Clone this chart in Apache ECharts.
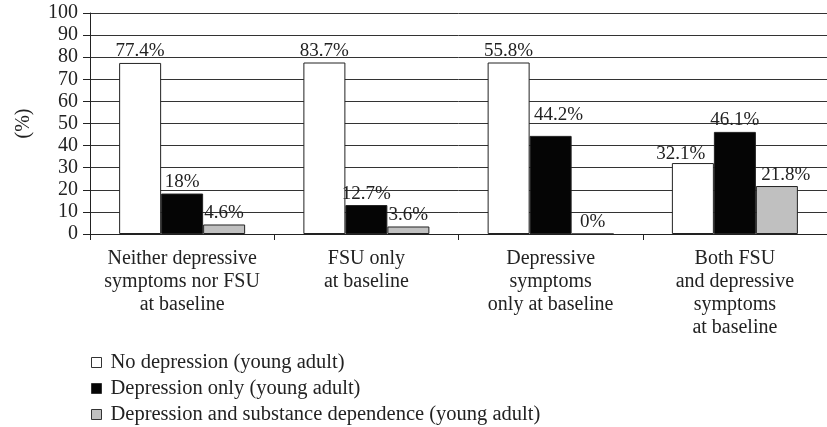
<!DOCTYPE html>
<html>
<head>
<meta charset="utf-8">
<script src="https://cdn.jsdelivr.net/npm/echarts@6/dist/echarts.min.js"></script>
<style>
  html, body { margin: 0; padding: 0; background: #fff; }
  #chart { width: 827px; height: 427px; }
</style>
</head>
<body>
<div id="chart"></div>
<script>
const categories = [
  "Neither depressive\nsymptoms nor FSU\nat baseline",
  "FSU only\nat baseline",
  "Depressive\nsymptoms\nonly at baseline",
  "Both FSU\nand depressive\nsymptoms\nat baseline"
];
const seriesNames = [
  "No depression (young adult)",
  "Depression only (young adult)",
  "Depression and substance dependence (young adult)"
];
// bar heights as drawn in the picture
const noDepression = [77.4, 77.6, 77.6, 32.1];
const depressionOnly = [18.3, 13.1, 44.4, 46.2];
const depressionSubst = [4.3, 3.4, 0, 21.7];
// printed labels
const noDepressionLabels = ["77.4%", "83.7%", "55.8%", "32.1%"];
const depressionOnlyLabels = ["18%", "12.7%", "44.2%", "46.1%"];
const depressionSubstLabels = ["4.6%", "3.6%", "0%", "21.8%"];

const FONT = '"Liberation Serif", "DejaVu Serif", serif';

// small nudges of a few labels, as in the original
const labelTweaks = {
  "1-2": [8, -9],
  "0-3": [-12, 2],
  "2-3": [9, 0]
};

function makeData(values, labels, s) {
  return values.map((v, i) => {
    const d = { value: v, label: { formatter: labels[i] } };
    const t = labelTweaks[s + "-" + i];
    if (t) d.label.offset = t;
    return d;
  });
}

const colors = ["#ffffff", "#050505", "#c0c0c0"];
const valueSets = [noDepression, depressionOnly, depressionSubst];
const labelSets = [noDepressionLabels, depressionOnlyLabels, depressionSubstLabels];

const chart = echarts.init(document.getElementById("chart"));
chart.setOption({
  animation: false,
  textStyle: { fontFamily: FONT },
  grid: { left: 90, top: 13, bottom: 193, right: -11 },
  legend: seriesNames.map((name, i) => ({
    left: 86,
    top: 347 + i * 26,
    itemWidth: 10,
    itemHeight: 10,
    icon: "rect",
    data: [name],
    itemStyle: { borderColor: "#333", borderWidth: 1 },
    textStyle: { fontFamily: FONT, fontSize: 20.5, color: "#222", padding: [0, 0, 0, 4] }
  })),
  xAxis: {
    type: "category",
    data: categories,
    axisLine: { lineStyle: { color: "#222", width: 1 } },
    axisTick: { show: true, length: 6, lineStyle: { color: "#222" } },
    axisLabel: {
      interval: 0, margin: 13, fontSize: 20, lineHeight: 23,
      color: "#222", fontFamily: FONT
    }
  },
  yAxis: {
    type: "value",
    min: 0, max: 100, interval: 10,
    name: "(%)",
    nameLocation: "middle",
    nameGap: 56,
    nameRotate: 90,
    nameTextStyle: { fontFamily: FONT, fontSize: 20, color: "#222" },
    axisLine: { show: true, lineStyle: { color: "#222" } },
    axisTick: { show: true, length: 7, lineStyle: { color: "#222" } },
    axisLabel: { margin: 12, fontSize: 20, color: "#222", fontFamily: FONT },
    splitLine: { show: true, lineStyle: { color: "#333", width: 1 } }
  },
  series: valueSets.map((vals, s) => ({
    name: seriesNames[s],
    type: "bar",
    barWidth: 42,
    barGap: "0%",
    data: makeData(vals, labelSets[s], s),
    itemStyle: { color: colors[s], borderColor: "#222", borderWidth: 1 },
    label: {
      show: true, position: "top", distance: 2,
      fontSize: 19, color: "#222", fontFamily: FONT
    }
  }))
});
</script>
</body>
</html>
